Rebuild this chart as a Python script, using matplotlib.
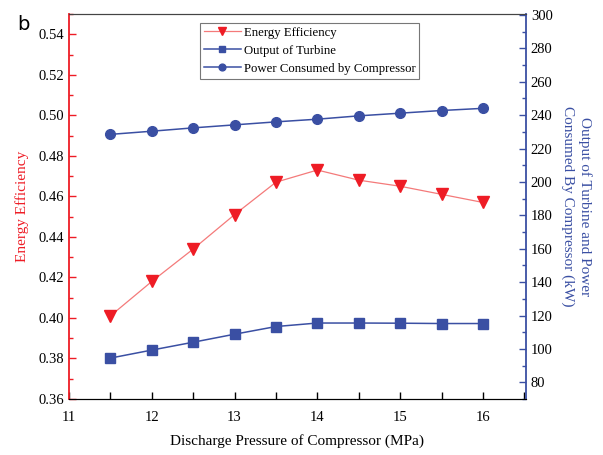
import matplotlib
matplotlib.use("Agg")
import matplotlib.pyplot as plt
from matplotlib.ticker import MultipleLocator

# dados
pressao = [11.5, 12.0, 12.5, 13.0, 13.5, 14.0, 14.5, 15.0, 15.5, 16.0]
eficiencia = [0.401, 0.418, 0.434, 0.451, 0.467, 0.473, 0.468, 0.465, 0.461, 0.457]
turbina = [94.5, 99.3, 104.0, 108.8, 113.4, 115.5, 115.5, 115.4, 115.2, 115.2]
compressor = [228.5, 230.4, 232.4, 234.2, 236.0, 237.6, 239.6, 241.2, 242.8, 244.1]

vermelho = "#ee1c25"
vermelho_linha = "#f47a7a"
azul = "#3a4fa3"

plt.rcParams["font.family"] = ["Liberation Serif", "DejaVu Serif"]
plt.rcParams["font.size"] = 10.5

fig = plt.figure(figsize=(6.03, 4.55), dpi=100)
ax = fig.add_axes([0.1144, 0.1231, 0.7579, 0.8461])
ax2 = ax.twinx()

l1, = ax.plot(pressao, eficiencia, color=vermelho_linha, lw=0.9,
              marker="v", markersize=8, markerfacecolor=vermelho,
              markeredgecolor=vermelho, label="Energy Efficiency")
l2, = ax2.plot(pressao, turbina, color=azul, lw=1.1,
               marker="s", markersize=6.5, markerfacecolor=azul,
               markeredgecolor=azul, label="Output of Turbine")
l3, = ax2.plot(pressao, compressor, color=azul, lw=1.1,
               marker="o", markersize=7, markerfacecolor=azul,
               markeredgecolor=azul, label="Power Consumed by Compressor")

ax.set_xlim(11, 16.52)
ax.set_ylim(0.36, 0.55)
ax2.set_ylim(70, 300.6)

ax.xaxis.set_major_locator(MultipleLocator(1))
ax.xaxis.set_minor_locator(MultipleLocator(0.5))
ax.yaxis.set_major_locator(MultipleLocator(0.02))
ax.yaxis.set_minor_locator(MultipleLocator(0.01))
ax2.set_yticks(range(80, 301, 20))
ax2.yaxis.set_minor_locator(MultipleLocator(10))

ax.tick_params(axis="x", which="both", direction="in", length=5, width=1, pad=9)
ax.tick_params(axis="y", which="major", direction="in", length=5, width=1, color=vermelho)
ax.tick_params(axis="y", which="minor", direction="in", length=3, width=1, color=vermelho)
ax2.tick_params(axis="y", which="major", direction="in", length=5, width=1, color=azul)
ax2.tick_params(axis="y", which="minor", direction="in", length=3, width=1, color=azul)

ax.spines["left"].set_color(vermelho)
ax.spines["left"].set_linewidth(1.3)
ax2.spines["left"].set_visible(False)
ax2.spines["right"].set_color(azul)
ax2.spines["right"].set_linewidth(1.3)
ax.spines["top"].set_color("#444444")
ax2.spines["top"].set_color("#444444")
ax.spines["right"].set_visible(False)

ax.set_xlabel("Discharge Pressure of Compressor (MPa)", fontsize=11, labelpad=7)
ax.set_ylabel("Energy Efficiency", color=vermelho, fontsize=11, labelpad=7)
ax2.set_ylabel("Output of Turbine and Power\nConsumed By Compressor (kW)",
               color=azul, fontsize=11, rotation=270, labelpad=28,
               linespacing=1.35)

leg = ax.legend(handles=[l1, l2, l3], loc="upper left",
                bbox_to_anchor=(0.286, 0.977), fontsize=9.2,
                frameon=True, fancybox=False, edgecolor="#555555",
                borderpad=0.3, labelspacing=0.48, handlelength=2.9,
                handletextpad=0.25, borderaxespad=0, markerscale=0.7)
leg.get_frame().set_linewidth(0.8)

fig.text(0.028, 0.935, "b", fontsize=14, family="DejaVu Sans")

fig.savefig("out.png", dpi=100)
